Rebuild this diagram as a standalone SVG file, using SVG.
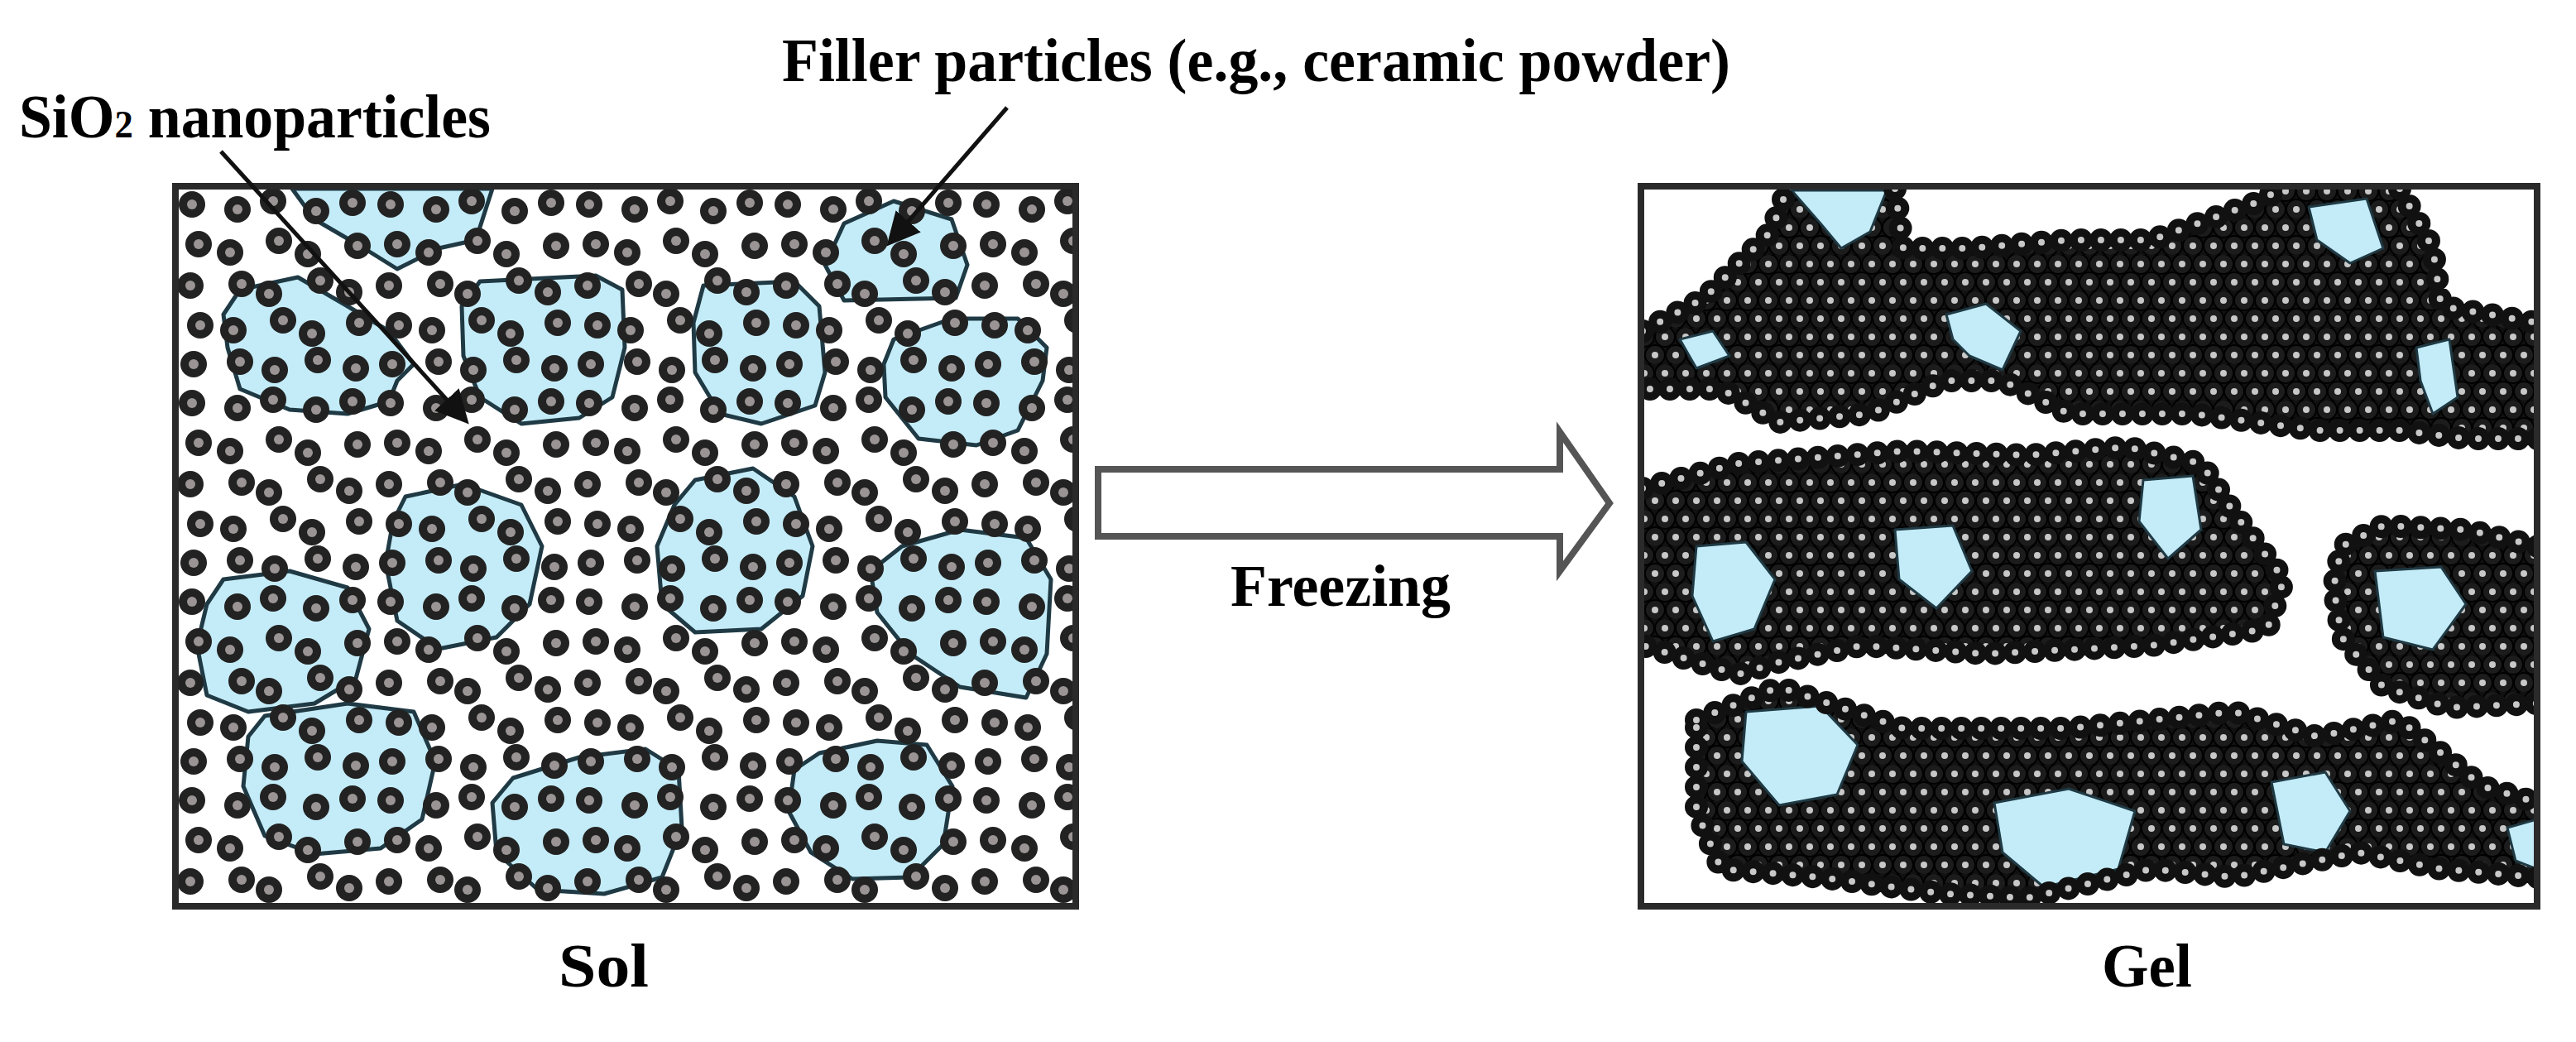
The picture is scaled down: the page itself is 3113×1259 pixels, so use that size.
<svg xmlns="http://www.w3.org/2000/svg" width="3113" height="1259" viewBox="0 0 3113 1259">
<style>
.lbl{font-family:"Liberation Serif","Times New Roman",serif;font-weight:bold;fill:#000}
.blob{fill:#c4ecf8;stroke:#1f3a44;stroke-width:5;stroke-linejoin:round}
.patch{fill:#c4ecf8;stroke:#1f3a44;stroke-width:3;stroke-linejoin:round}
.box{fill:none;stroke:#2a2a2a;stroke-width:8}
.band{fill:url(#dense);stroke:none}
.bump{fill:none;stroke:#111;stroke-width:28;stroke-linecap:round;stroke-dasharray:0 24}
.bumpc{fill:none;stroke:#c8c8c8;stroke-width:8;stroke-linecap:round;stroke-dasharray:0 24}
.lead{stroke:#111;stroke-width:5;fill:none}
</style>
<defs>
<g id="p"><circle r="16" fill="#222"/><circle r="6" fill="#9a9594"/></g>
<pattern id="sparse" patternUnits="userSpaceOnUse" x="212" y="225" width="240" height="240">
<use href="#p" x="20" y="22"/><use href="#p" x="75" y="28"/><use href="#p" x="118" y="18"/><use href="#p" x="170" y="30"/><use href="#p" x="214" y="20"/>
<use href="#p" x="28" y="70"/><use href="#p" x="66" y="80"/><use href="#p" x="125" y="66"/><use href="#p" x="160" y="82"/><use href="#p" x="220" y="72"/>
<use href="#p" x="18" y="120"/><use href="#p" x="80" y="118"/><use href="#p" x="113" y="130"/><use href="#p" x="175" y="114"/><use href="#p" x="210" y="128"/>
<use href="#p" x="30" y="168"/><use href="#p" x="70" y="174"/><use href="#p" x="130" y="162"/><use href="#p" x="165" y="178"/><use href="#p" x="222" y="165"/>
<use href="#p" x="22" y="215"/><use href="#p" x="78" y="212"/><use href="#p" x="120" y="222"/><use href="#p" x="172" y="210"/><use href="#p" x="218" y="220"/>
</pattern>
<pattern id="dense" patternUnits="userSpaceOnUse" width="50" height="44">
<rect width="50" height="44" fill="#111"/>
<g fill="#1c1c1c" stroke="#000" stroke-width="2">
<circle cx="12" cy="11" r="12"/><circle cx="37" cy="11" r="12"/><circle cx="25" cy="33" r="12"/><circle cx="0" cy="33" r="12"/><circle cx="50" cy="33" r="12"/></g>
<g fill="#c8c8c8"><circle cx="12" cy="11" r="4"/><circle cx="37" cy="11" r="4"/><circle cx="25" cy="33" r="4"/><circle cx="0" cy="33" r="4"/><circle cx="50" cy="33" r="4"/></g>
</pattern>
<marker id="ah" markerWidth="8" markerHeight="8" refX="6" refY="4" orient="auto" markerUnits="strokeWidth"><path d="M0,0 L8,4 L0,8 z" fill="#111"/></marker>
<clipPath id="cl"><rect x="212" y="225" width="1088" height="870"/></clipPath>
<clipPath id="cr"><rect x="1983" y="225" width="1083" height="870"/></clipPath>
</defs>

<g id="sol-box">
<rect x="212" y="225" width="1088" height="870" fill="#fff"/>
<g clip-path="url(#cl)">
<polygon class="blob" points="353,228 595,228 575,290 530,300 480,325 440,300 380,265"/>
<polygon class="blob" points="290,350 360,335 420,370 470,400 500,440 480,460 470,485 420,500 350,495 290,470 275,420 270,380"/>
<polygon class="blob" points="580,340 720,333 752,350 755,420 740,480 700,505 630,512 580,480 560,430 558,370"/>
<polygon class="blob" points="850,345 960,340 990,370 997,450 985,490 920,512 870,500 840,450 838,390"/>
<polygon class="blob" points="1080,243 1150,265 1169,320 1155,360 1020,363 997,320 1020,270"/>
<polygon class="blob" points="1080,410 1150,385 1230,385 1265,420 1260,460 1230,520 1180,538 1110,530 1070,480 1068,440"/>
<polygon class="blob" points="490,600 560,585 630,610 655,660 640,730 600,770 530,784 480,750 466,680 475,630"/>
<polygon class="blob" points="840,580 910,566 960,600 982,660 970,720 920,760 840,764 800,730 794,660 815,610"/>
<polygon class="blob" points="1090,660 1160,640 1240,650 1270,700 1265,790 1240,843 1160,830 1100,790 1060,740 1052,690"/>
<polygon class="blob" points="270,700 350,690 420,710 446,760 430,820 380,850 300,860 250,840 238,780 250,730"/>
<polygon class="blob" points="320,865 420,850 500,860 526,920 510,990 460,1025 380,1032 320,1010 294,950 300,890"/>
<polygon class="blob" points="620,940 700,915 780,905 820,930 824,1000 800,1060 730,1080 650,1075 600,1030 595,970"/>
<polygon class="blob" points="990,910 1060,895 1120,900 1151,950 1140,1020 1100,1060 1030,1062 980,1030 953,980 960,930"/>
<rect x="212" y="225" width="1088" height="870" fill="url(#sparse)"/>
</g>
<rect class="box" x="212" y="225" width="1088" height="870"/>
</g>

<g id="gel-box">
<rect x="1983" y="225" width="1083" height="870" fill="#fff"/>
<g clip-path="url(#cr)">
<g id="band1">
<path id="b1" class="band" d="M1985,400 L2060,360 L2140,280 L2160,228 L2290,228 L2300,300 L2380,300 L2500,290 L2600,290 L2740,240 L2750,228 L2900,228 L2940,300 L2950,370 L3067,390 L3067,530 L2980,530 L2900,520 L2800,520 L2650,500 L2500,500 L2420,460 L2350,460 L2260,500 L2150,510 L2080,470 L1985,470 Z"/>
<polygon class="patch" points="2165,230 2280,230 2260,280 2225,300 2200,270"/>
<polygon class="patch" points="2352,380 2400,367 2442,400 2420,447 2380,430 2360,410"/>
<polygon class="patch" points="2790,250 2860,240 2880,300 2840,318 2800,290"/>
<polygon class="patch" points="2030,410 2070,400 2090,430 2050,445"/>
<polygon class="patch" points="2920,420 2960,410 2970,480 2940,500 2925,460"/>
<path class="bump" d="M1985,400 L2060,360 L2140,280 L2160,228 M2290,228 L2300,300 L2380,300 L2500,290 L2600,290 L2740,240 L2750,228 M2900,228 L2940,300 L2950,370 L3067,390 M3067,530 L2980,530 L2900,520 L2800,520 L2650,500 L2500,500 L2420,460 L2350,460 L2260,500 L2150,510 L2080,470 L1985,470"/>
<path class="bumpc" d="M1985,400 L2060,360 L2140,280 L2160,228 M2290,228 L2300,300 L2380,300 L2500,290 L2600,290 L2740,240 L2750,228 M2900,228 L2940,300 L2950,370 L3067,390 M3067,530 L2980,530 L2900,520 L2800,520 L2650,500 L2500,500 L2420,460 L2350,460 L2260,500 L2150,510 L2080,470 L1985,470"/>
</g>
<g id="band2">
<path class="band" d="M1985,590 L2100,560 L2300,545 L2450,550 L2570,540 L2660,560 L2700,620 L2760,700 L2740,760 L2600,780 L2400,790 L2250,780 L2150,800 L2100,815 L1985,780 Z"/>
<path class="band" d="M2830,660 L2880,635 L2980,640 L3067,660 L3067,850 L2960,855 L2880,830 L2830,770 L2820,710 Z"/>
<polygon class="patch" points="2050,660 2110,655 2145,700 2120,760 2070,775 2045,720"/>
<polygon class="patch" points="2290,640 2360,635 2383,690 2340,735 2295,700"/>
<polygon class="patch" points="2590,580 2650,575 2660,640 2620,675 2585,630"/>
<polygon class="patch" points="2870,690 2950,685 2980,730 2940,785 2880,770"/>
<path class="bump" d="M1985,590 L2100,560 L2300,545 L2450,550 L2570,540 L2660,560 L2700,620 L2760,700 L2740,760 L2600,780 L2400,790 L2250,780 L2150,800 L2100,815 L1985,780 M3067,660 L2980,640 L2880,635 L2830,660 L2820,710 L2830,770 L2880,830 L2960,855 L3067,850"/>
<path class="bumpc" d="M1985,590 L2100,560 L2300,545 L2450,550 L2570,540 L2660,560 L2700,620 L2760,700 L2740,760 L2600,780 L2400,790 L2250,780 L2150,800 L2100,815 L1985,780 M3067,660 L2980,640 L2880,635 L2830,660 L2820,710 L2830,770 L2880,830 L2960,855 L3067,850"/>
</g>
<g id="band3">
<path class="band" d="M2050,870 L2150,830 L2300,880 L2500,880 L2700,860 L2800,890 L2900,870 L3000,950 L3067,970 L3067,1060 L2950,1050 L2850,1030 L2700,1060 L2600,1050 L2450,1085 L2350,1080 L2200,1060 L2080,1050 L2050,980 Z"/>
<polygon class="patch" points="2110,860 2200,853 2245,900 2220,960 2150,973 2105,920"/>
<polygon class="patch" points="2410,970 2500,953 2580,980 2560,1050 2470,1072 2420,1030"/>
<polygon class="patch" points="2745,945 2810,933 2840,980 2810,1030 2760,1020"/>
<polygon class="patch" points="3030,1000 3066,990 3066,1050 3040,1040"/>
<path class="bump" d="M2050,870 L2150,830 L2300,880 L2500,880 L2700,860 L2800,890 L2900,870 L3000,950 L3067,970 M3067,1060 L2950,1050 L2850,1030 L2700,1060 L2600,1050 L2450,1085 L2350,1080 L2200,1060 L2080,1050 L2050,980 L2050,870"/>
<path class="bumpc" d="M2050,870 L2150,830 L2300,880 L2500,880 L2700,860 L2800,890 L2900,870 L3000,950 L3067,970 M3067,1060 L2950,1050 L2850,1030 L2700,1060 L2600,1050 L2450,1085 L2350,1080 L2200,1060 L2080,1050 L2050,980 L2050,870"/>
</g>
</g>
<rect class="box" x="1983" y="225" width="1083" height="870"/>
</g>

<g id="freeze-arrow">
<polygon points="1327,567 1885,567 1885,522 1945,608 1885,690 1885,648 1327,648" fill="#fff" stroke="#555" stroke-width="8" stroke-linejoin="miter"/>
</g>

<g id="connectors">
<line class="lead" x1="267" y1="183" x2="560" y2="505" marker-end="url(#ah)"/>
<line class="lead" x1="1217" y1="130" x2="1078" y2="290" marker-end="url(#ah)"/>
</g>

<g id="labels">
<text class="lbl" x="23" y="166" font-size="74" textLength="570" lengthAdjust="spacingAndGlyphs">SiO<tspan font-size="46">2</tspan> nanoparticles</text>
<text class="lbl" x="945" y="98" font-size="75" textLength="1146" lengthAdjust="spacingAndGlyphs">Filler particles (e.g., ceramic powder)</text>
<text class="lbl" x="1487" y="732" font-size="72" textLength="266" lengthAdjust="spacingAndGlyphs">Freezing</text>
<text class="lbl" x="675" y="1192" font-size="74" textLength="109" lengthAdjust="spacingAndGlyphs">Sol</text>
<text class="lbl" x="2540" y="1192" font-size="74" textLength="109" lengthAdjust="spacingAndGlyphs">Gel</text>
</g>
</svg>
